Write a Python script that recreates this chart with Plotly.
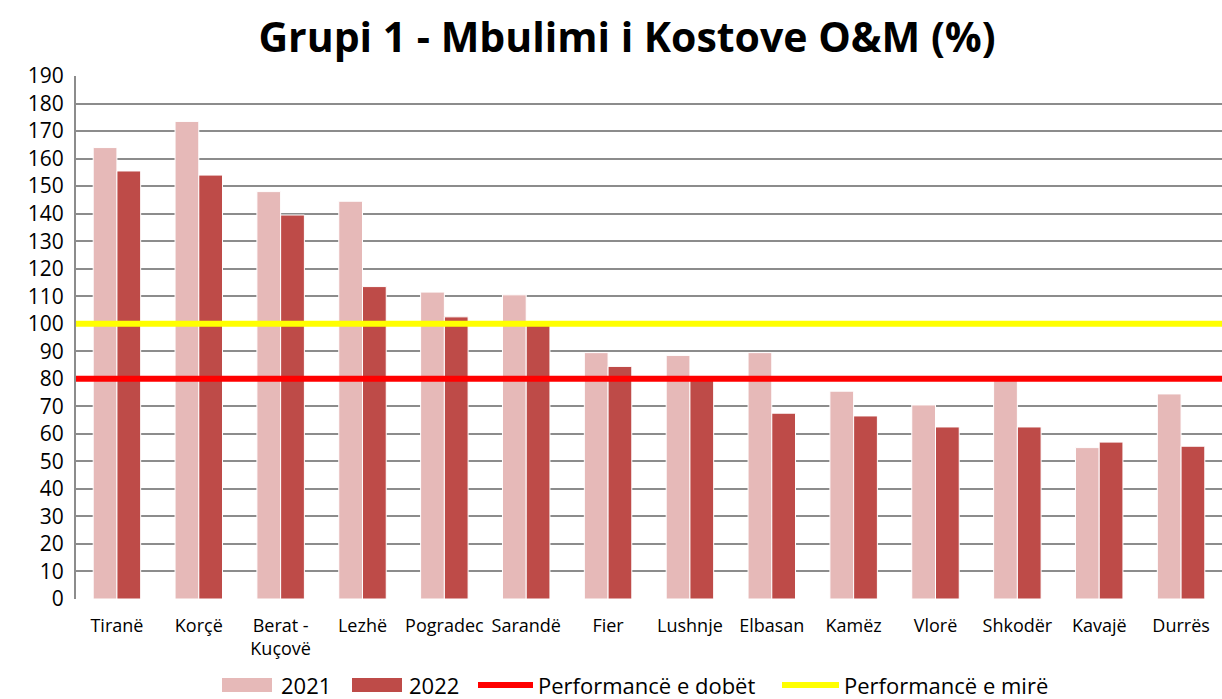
import plotly.graph_objects as go

categories = ["Tiranë", "Korçë", "Berat -<br>Kuçovë", "Lezhë", "Pogradec", "Sarandë", "Fier",
              "Lushnje", "Elbasan", "Kamëz", "Vlorë", "Shkodër", "Kavajë", "Durrës"]
values_2021 = [164, 173.5, 148, 144.5, 111.5, 110.5, 89.5, 88.5, 89.5, 75.5, 70.5, 79.5, 55, 74.5]
values_2022 = [155.5, 154, 139.5, 113.5, 102.5, 99.5, 84.5, 80.5, 67.5, 66.5, 62.5, 62.5, 57, 55.5]
poor_threshold = 80
good_threshold = 100
y_ticks = list(range(0, 200, 10))
series_names = ["2021", "2022", "Performancë e dobët", "Performancë e mirë"]
series_colors = ["#E6B9B8", "#BE4B48", "#FF0000", "#FFFF00"]

FONT = "Open Sans"
W, H = 1222, 699
ML, MR, MT, MB = 76, 0, 76, 100
PW, PH = W - ML - MR, H - MT - MB


def px_x(px):
    return (px - ML) / PW


def px_y(py):
    return (H - MB - py) / PH


fig = go.Figure()
fig.add_trace(go.Bar(name=series_names[0], x=categories, y=values_2021, showlegend=False,
                     marker=dict(color=series_colors[0], line=dict(color="white", width=1))))
fig.add_trace(go.Bar(name=series_names[1], x=categories, y=values_2022, showlegend=False,
                     marker=dict(color=series_colors[1], line=dict(color="white", width=1))))
fig.add_trace(go.Scatter(name=series_names[2], x=[0, 1], y=[poor_threshold, poor_threshold],
                         mode="lines", line=dict(color=series_colors[2], width=6), xaxis="x2",
                         showlegend=False))
fig.add_trace(go.Scatter(name=series_names[3], x=[0, 1], y=[good_threshold, good_threshold],
                         mode="lines", line=dict(color=series_colors[3], width=6), xaxis="x2",
                         showlegend=False))

# Legend drawn manually (wide swatches like the original)
legend_y = 685
swatch_spans = [(222, 272), (352, 402), (478, 533), (782, 839)]
text_x = [279, 407, 536, 842]
for i, name in enumerate(series_names):
    x0, x1 = swatch_spans[i]
    if i < 2:
        fig.add_shape(type="rect", xref="paper", yref="paper",
                      x0=px_x(x0), x1=px_x(x1), y0=px_y(legend_y + 7), y1=px_y(legend_y - 7),
                      fillcolor=series_colors[i], line=dict(width=0))
    else:
        fig.add_shape(type="line", xref="paper", yref="paper",
                      x0=px_x(x0), x1=px_x(x1), y0=px_y(legend_y), y1=px_y(legend_y),
                      line=dict(color=series_colors[i], width=6))
    fig.add_annotation(text=name, xref="paper", yref="paper", x=px_x(text_x[i]), y=px_y(legend_y),
                       xanchor="left", yanchor="middle", showarrow=False,
                       font=dict(family=FONT, size=22, color="black"))

fig.update_layout(
    width=W, height=H,
    paper_bgcolor="white", plot_bgcolor="white",
    margin=dict(l=ML, r=MR, t=MT, b=MB),
    title=dict(text="<b>Grupi 1 - Mbulimi i Kostove O&M (%)</b>", x=627 / W, xanchor="center",
               y=1 - 38 / H, yanchor="middle", font=dict(family=FONT, size=41, color="black")),
    barmode="group", bargap=0.42, bargroupgap=0.0,
    showlegend=False,
    font=dict(family=FONT, color="black"),
    xaxis=dict(tickfont=dict(size=18, family=FONT), showgrid=False, showline=False,
               ticks="", zeroline=False, automargin=False, ticklabelstandoff=14),
    xaxis2=dict(overlaying="x", range=[0, 1], visible=False),
    yaxis=dict(range=[0, 190], tickvals=y_ticks, tickfont=dict(size=21, family=FONT),
               showgrid=True, gridcolor="#8C8C8C", gridwidth=2, showline=True,
               linecolor="#8C8C8C", linewidth=2, ticks="", automargin=False,
               ticklabelstandoff=6, zeroline=False),
)

fig.write_html("out.html", config={"displayModeBar": False},
               post_script="document.body.style.margin='0';")
